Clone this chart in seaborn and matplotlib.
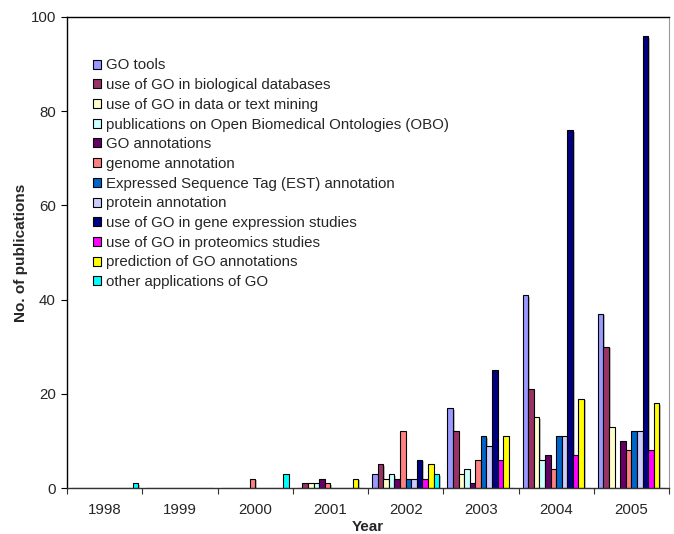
import pandas as pd
import matplotlib
matplotlib.use("Agg")
import matplotlib.pyplot as plt
import matplotlib.patheffects as pe
import seaborn as sns

YEARS = ["1998", "1999", "2000", "2001", "2002", "2003", "2004", "2005"]

CATEGORIES = [
    "GO tools",
    "use of GO in biological databases",
    "use of GO in data or text mining",
    "publications on Open Biomedical Ontologies (OBO)",
    "GO annotations",
    "genome annotation",
    "Expressed Sequence Tag (EST) annotation",
    "protein annotation",
    "use of GO in gene expression studies",
    "use of GO in proteomics studies",
    "prediction of GO annotations",
    "other applications of GO",
]

# one list per category, values for 1998..2005
go_tools        = [0, 0, 0, 0, 3, 17, 41, 37]
bio_databases   = [0, 0, 0, 1, 5, 12, 21, 30]
text_mining     = [0, 0, 0, 1, 2, 3, 15, 13]
obo             = [0, 0, 0, 1, 3, 4, 6, 0]
go_annotations  = [0, 0, 0, 2, 2, 1, 7, 10]
genome_annot    = [0, 0, 2, 1, 12, 6, 4, 8]
est_annot       = [0, 0, 0, 0, 2, 11, 11, 12]
protein_annot   = [0, 0, 0, 0, 2, 9, 11, 12]
gene_expression = [0, 0, 0, 0, 6, 25, 76, 96]
proteomics      = [0, 0, 0, 0, 2, 6, 7, 8]
prediction      = [0, 0, 0, 2, 5, 11, 19, 18]
other_apps      = [1, 0, 3, 0, 3, 0, 0, 0]

SERIES = [go_tools, bio_databases, text_mining, obo, go_annotations, genome_annot,
          est_annot, protein_annot, gene_expression, proteomics, prediction, other_apps]

COLORS = ["#9999FF", "#993366", "#FFFFCC", "#CCFFFF", "#660066", "#FF8080",
          "#0066CC", "#CCCCFF", "#000080", "#FF00FF", "#FFFF00", "#00FFFF"]

rows = []
for cat, vals in zip(CATEGORIES, SERIES):
    for yr, v in zip(YEARS, vals):
        rows.append({"Year": yr, "Category": cat, "Count": v})
df = pd.DataFrame(rows)

sns.set_theme(style="white")
plt.rcParams["font.family"] = ["Liberation Sans", "DejaVu Sans"]

fig = plt.figure(figsize=(6.74, 5.34), dpi=100)
ax = fig.add_axes([67 / 674, 46 / 534, 602 / 674, 471 / 534])

sns.barplot(data=df, x="Year", y="Count", hue="Category", order=YEARS,
            hue_order=CATEGORIES, palette=COLORS, width=0.89, saturation=1,
            edgecolor="black", linewidth=0.8, ax=ax)

# light drop shadow like the original spreadsheet chart
for bar in ax.patches:
    bar.set_path_effects([pe.SimplePatchShadow(offset=(1.2, -1.2), shadow_rgbFace="#808080", alpha=0.5),
                          pe.Normal()])

ax.set_ylim(0, 100)
ax.set_xlim(-0.5, len(YEARS) - 0.5)
ax.set_yticks([0, 20, 40, 60, 80, 100])
ax.tick_params(axis="y", which="major", direction="out", length=4, width=0.8,
               labelsize=10.8, left=True, color="black", pad=4)
ax.tick_params(axis="x", which="major", length=0, labelsize=10.8, pad=11)
ax.set_xticks([i - 0.5 for i in range(len(YEARS) + 1)], minor=True)
ax.tick_params(axis="x", which="minor", direction="out", length=4, width=0.8,
               bottom=True, color="#333333")

ax.set_xlabel("Year", fontsize=11, fontweight="bold", labelpad=2)
ax.set_ylabel("No. of publications", fontsize=11, fontweight="bold", labelpad=1.5)

for side in ["left", "top", "bottom"]:
    ax.spines[side].set_color("black")
    ax.spines[side].set_linewidth(1.0)
ax.spines["right"].set_color("#999999")
ax.spines["right"].set_linewidth(0.8)
ax.spines["bottom"].set_color("#333333")

leg = ax.legend(loc="upper left", bbox_to_anchor=(0.043, 0.912), frameon=False,
                fontsize=10.8, handlelength=0.55, handleheight=0.55, handletextpad=0.35,
                labelspacing=0.38, borderpad=0, borderaxespad=0)
for h in leg.legend_handles:
    h.set_edgecolor("black")
    h.set_linewidth(0.8)
    h.set_path_effects([])

fig.savefig("out.png", dpi=100)
